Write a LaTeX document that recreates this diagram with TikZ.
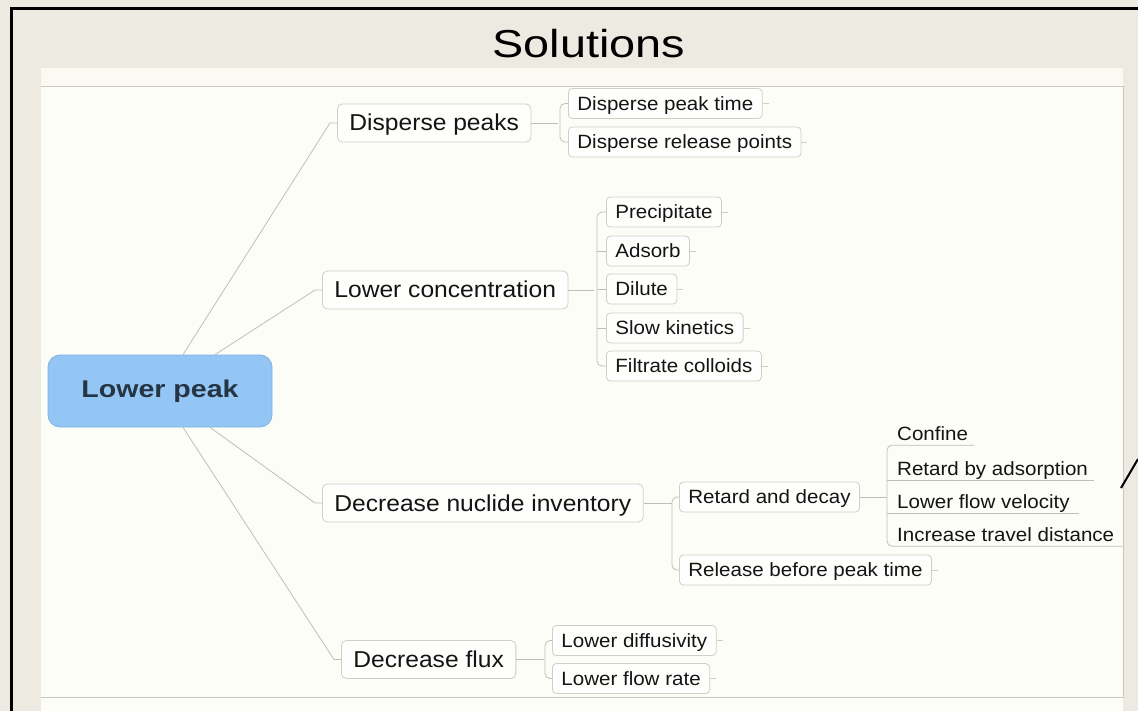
\documentclass[tikz,border=0pt]{standalone}
\usepackage{fontspec}
\setmainfont{Liberation Sans}
\newfontfamily\basef[FakeStretch=1.07]{Liberation Sans}
\newfontfamily\titlef[FakeStretch=1.2]{Liberation Sans}
\newfontfamily\rootf[FakeStretch=1.18]{Liberation Sans}
\definecolor{bg}{HTML}{ECEAE1}
\definecolor{panel}{HTML}{FDFDF8}
\definecolor{panelstrip}{HTML}{FAFAF3}
\definecolor{edge}{HTML}{C9C9C1}
\definecolor{boxline}{HTML}{CFCFC7}
\definecolor{connline}{HTML}{BFBFB7}
\definecolor{rootfill}{HTML}{93C6F4}
\definecolor{rootline}{HTML}{7FB2E2}
\definecolor{roottext}{HTML}{263544}
\definecolor{txt}{HTML}{141414}
\tikzset{
  rootbox/.style={draw=rootline, fill=rootfill, rounded corners=12pt, line width=0.8pt,
    minimum width=224pt, minimum height=72pt, text=roottext,
    font=\rootf\bfseries\fontsize{24.2}{29}\selectfont},
  lvlone/.style={draw=boxline, fill=white!60!panel, rounded corners=5pt, line width=0.8pt,
    anchor=west, inner xsep=12pt, inner ysep=0pt, minimum height=38pt,
    text height=20pt, text depth=4pt, text=txt,
    font=\basef\fontsize{23}{28}\selectfont},
  lvltwo/.style={draw=boxline, fill=white!60!panel, rounded corners=4pt, line width=0.8pt,
    anchor=west, inner xsep=9pt, inner ysep=0pt, minimum height=30pt,
    text height=17.5pt, text depth=4pt, text=txt,
    font=\basef\fontsize{19.2}{23}\selectfont},
  ulitem/.style={anchor=base west, inner sep=0pt, text depth=5pt, text=txt,
    font=\basef\fontsize{19.2}{23}\selectfont},
  conn/.style={draw=connline, line width=0.8pt},
  bracket/.style={conn, rounded corners=5pt},
  stub/.style={draw=boxline, line width=0.7pt}
}
\begin{document}
\begin{tikzpicture}[x=1pt, y=-1pt]
\useasboundingbox (0,0) rectangle (1138,711);
% background and panel
\fill[bg] (0,0) rectangle (1138,711);
\fill[panel] (41,68) rectangle (1123,711);
\fill[panelstrip] (41,68) rectangle (1123,86);
\draw[edge, line width=0.8pt] (41,86) -- (1123,86) -- (1123,697) -- (41,697);
% black frame
\draw[line width=3pt] (11.5,715) -- (11.5,8.5) -- (1142,8.5);
\draw[line width=2pt] (1121,488) -- (1138,459);
% title
\node[font=\titlef\fontsize{39}{46}\selectfont, anchor=base, text=black] (title) at (589,58) {Solutions};

% root
\node[rootbox] (root) at (160,391) {Lower peak};

% level one
\node[lvlone] (dp)  at (337,123) {Disperse peaks};
\node[lvlone] (lc)  at (322,290) {Lower concentration};
\node[lvlone] (dni) at (322,503) {Decrease nuclide inventory};
\node[lvlone] (df)  at (341,659.5) {Decrease flux};

% level two
\node[lvltwo] (dpt) at (568,103.5) {Disperse peak time};
\node[lvltwo] (dpr) at (568,142) {Disperse release points};

\node[lvltwo] (prec) at (606,212) {Precipitate};
\node[lvltwo] (ads)  at (606,251) {Adsorb};
\node[lvltwo] (dil)  at (606,289) {Dilute};
\node[lvltwo] (slow) at (606,328) {Slow kinetics};
\node[lvltwo] (filt) at (606,366) {Filtrate colloids};

\node[lvltwo] (rad) at (679,497) {Retard and decay};
\node[lvltwo] (rbp) at (679,570) {Release before peak time};

\node[lvltwo] (ldif) at (552,640.5) {Lower diffusivity};
\node[lvltwo] (lfr)  at (552,678.5) {Lower flow rate};

% level three (underlined)
\node[ulitem] (conf) at (897,440) {Confine};
\node[ulitem] (rba)  at (897,475) {Retard by adsorption};
\node[ulitem] (lfv)  at (897,508) {Lower flow velocity};
\node[ulitem] (itd)  at (897,541) {Increase travel distance};

% root connectors
\draw[conn] ([xshift=23pt]root.north) -- ([xshift=-7pt]dp.west) -- (dp.west);
\draw[conn] ([xshift=55pt]root.north) -- ([xshift=-7pt]lc.west) -- (lc.west);
\draw[conn] ([xshift=50pt]root.south) -- ([xshift=-7pt]dni.west) -- (dni.west);
\draw[conn] ([xshift=23pt]root.south) -- ([xshift=-7pt]df.west) -- (df.west);

% disperse peaks
\draw[conn] (dp.east) -- ([xshift=27pt]dp.east);
\draw[bracket] (dpt.west) -- ([xshift=-8pt]dpt.west) |- (dpr.west);

% lower concentration
\draw[conn] (lc.east) -- ([xshift=26pt]lc.east);
\draw[bracket] (prec.west) -- ([xshift=-9pt]prec.west) |- (filt.west);
\draw[conn] (ads.west) -- ([xshift=-9pt]ads.west);
\draw[conn] (dil.west) -- ([xshift=-9pt]dil.west);
\draw[conn] (slow.west) -- ([xshift=-9pt]slow.west);

% decrease nuclide inventory
\draw[conn] (dni.east) -- ([xshift=28pt]dni.east);
\draw[bracket] (rad.west) -- ([xshift=-7pt]rad.west) |- (rbp.west);

% retard and decay
\draw[conn] (rad.east) -- ([xshift=27pt]rad.east);
\draw[bracket] ([xshift=6pt]conf.south east) -- ([xshift=-10pt]conf.south west)
  -- ([xshift=-10pt]itd.south west) -- ([xshift=9pt]itd.south east);
\draw[conn] ([xshift=-10pt]rba.south west) -- ([xshift=6pt]rba.south east);
\draw[conn] ([xshift=-10pt]lfv.south west) -- ([xshift=9pt]lfv.south east);

% decrease flux
\draw[conn] (df.east) -- ([xshift=28pt]df.east);
\draw[bracket] (ldif.west) -- ([xshift=-7pt]ldif.west) |- (lfr.west);

% small right stubs on leaves
\foreach \n in {dpt,dpr,prec,ads,dil,slow,filt,rbp,ldif,lfr}
  \draw[stub] (\n.east) -- ++(6,0);
\end{tikzpicture}
\end{document}
